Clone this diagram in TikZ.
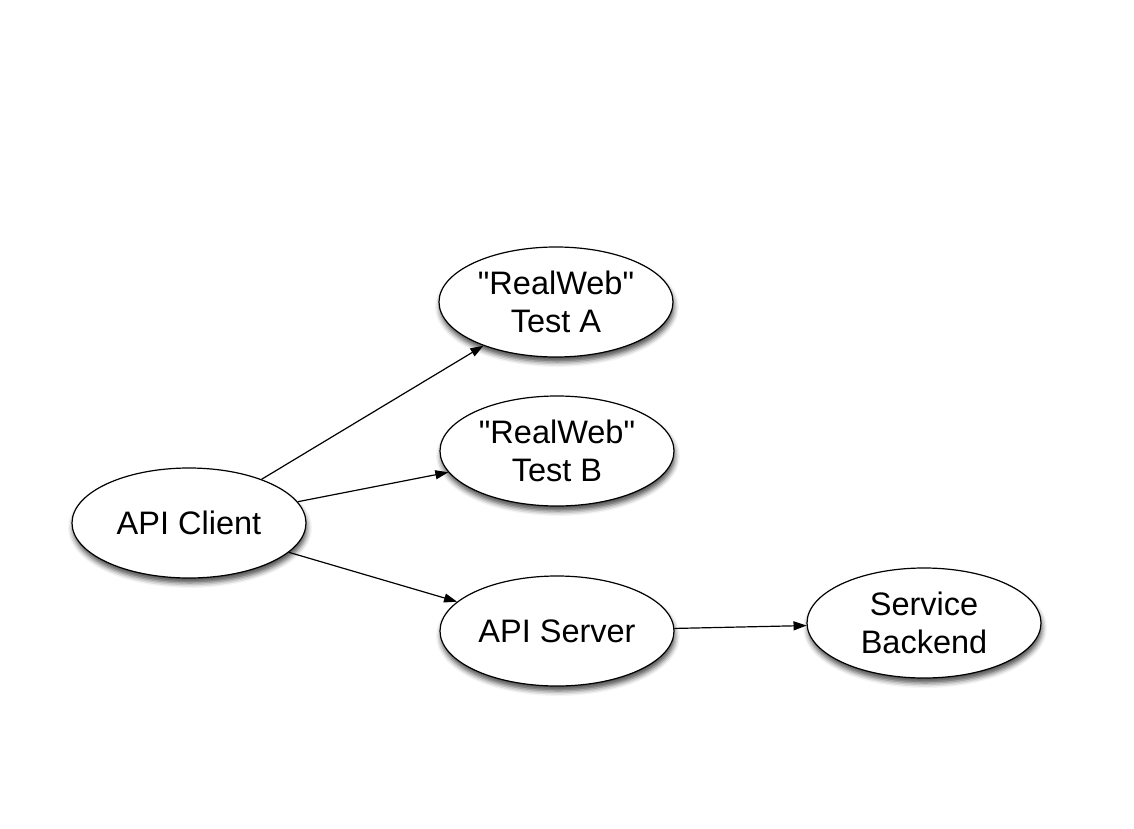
\documentclass[tikz,border=0pt]{standalone}
\usepackage{fontspec}
\setmainfont{Liberation Sans}[Ligatures=TeXOff]
\usetikzlibrary{shapes.geometric,arrows.meta,shadows.blur}
\begin{document}
\begin{tikzpicture}[x=1pt,y=-1pt,
  nodebox/.style={ellipse, draw=black, line width=1.2pt, fill=white,
    minimum width=234pt, minimum height=110pt, inner sep=0pt, align=center,
    font=\fontsize{32.5}{38}\selectfont,
    blur shadow={shadow xshift=1pt, shadow yshift=-5pt, shadow blur radius=5pt, shadow opacity=70}},
  conn/.style={line width=1.2pt, -{Triangle[length=13pt,width=9pt]}}]
\useasboundingbox (0,0) rectangle (1134,829);
\node[nodebox] (client) at (189,523) {API Client};
\node[nodebox] (testa) at (556,302) {"RealWeb"\\Test A};
\node[nodebox] (testb) at (557,451) {"RealWeb"\\Test B};
\node[nodebox] (server) at (557,631) {API Server};
\node[nodebox] (backend) at (924,623) {Service\\Backend};
\draw[conn] (client) -- (testa);
\draw[conn] (client) -- (testb);
\draw[conn] (client) -- (server);
\draw[conn] (server) -- (backend);
\end{tikzpicture}
\end{document}
